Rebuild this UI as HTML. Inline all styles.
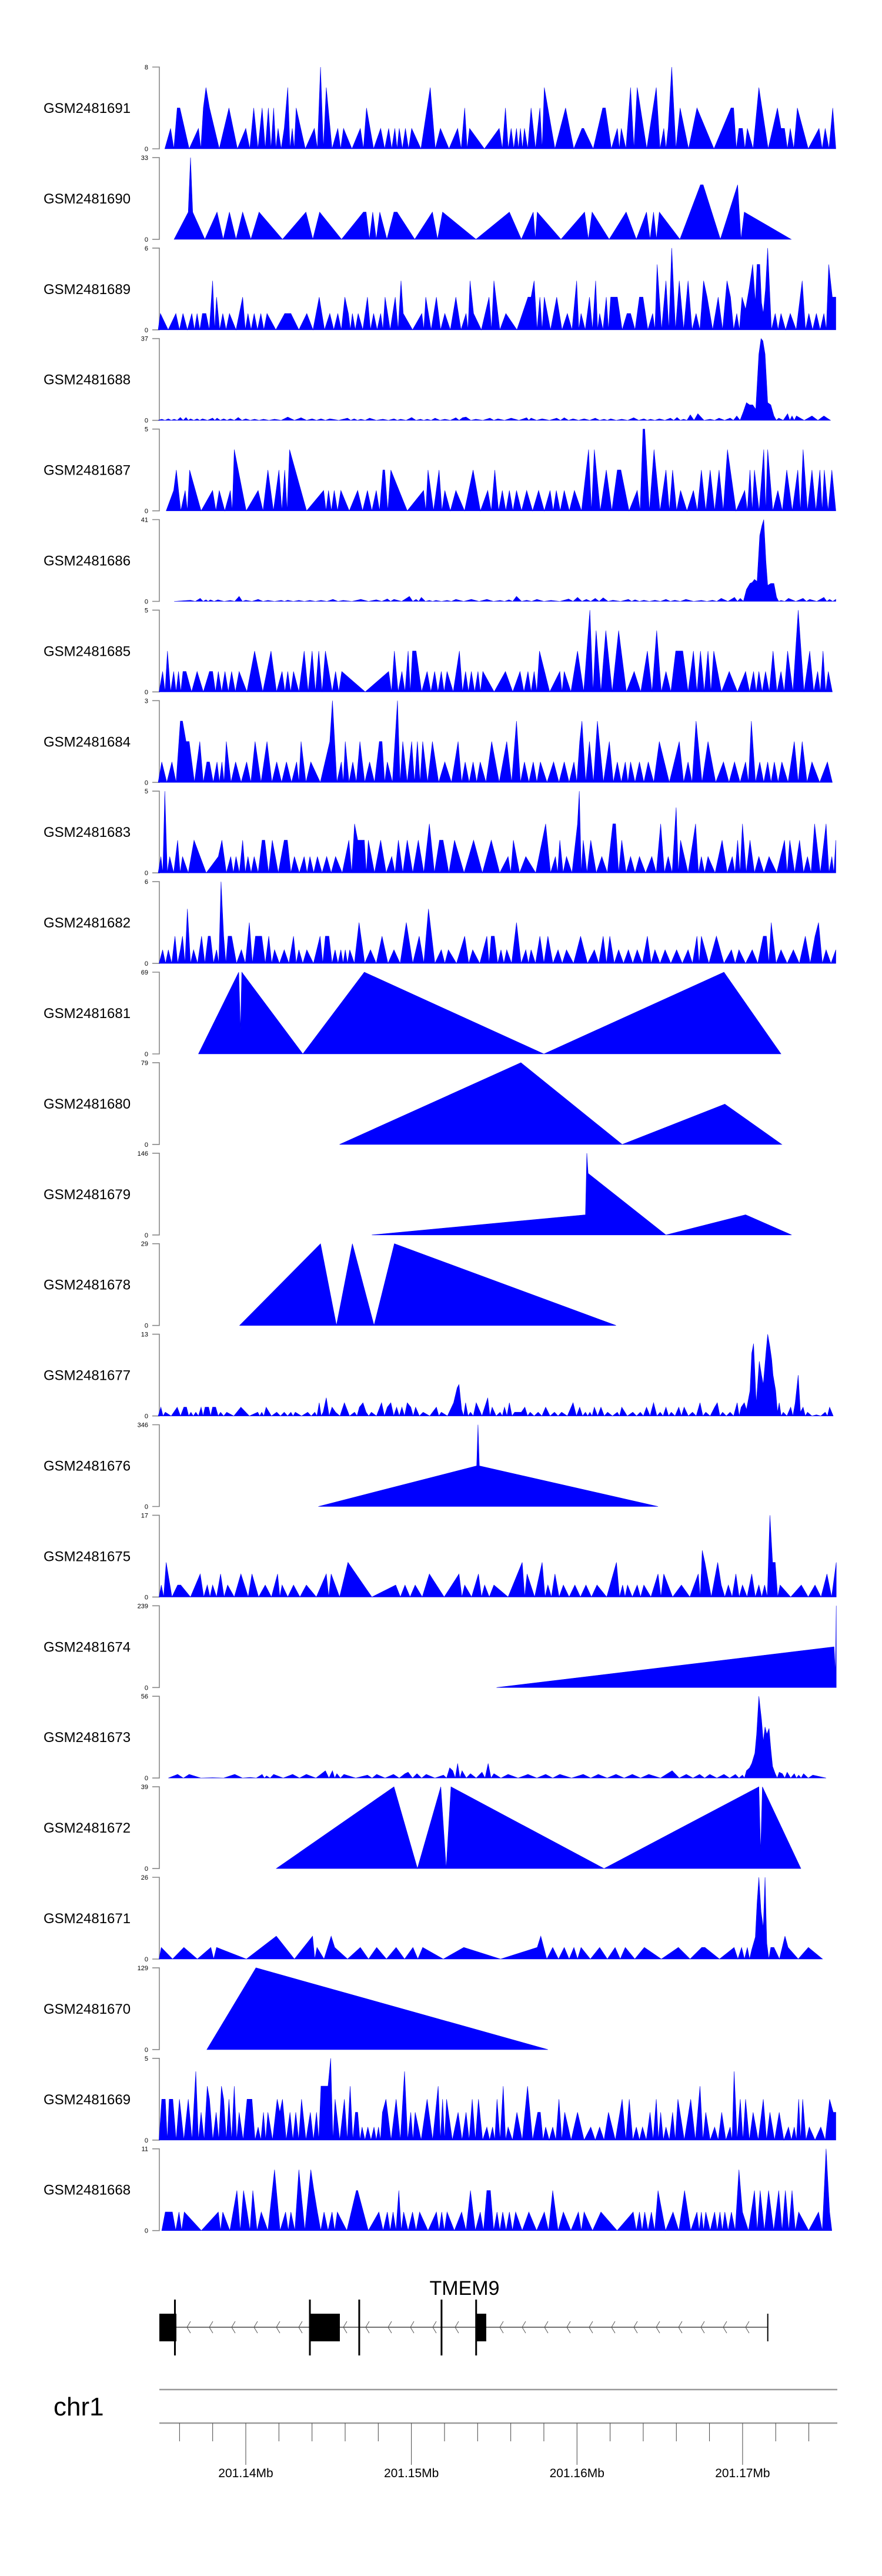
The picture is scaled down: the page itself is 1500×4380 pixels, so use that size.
<!DOCTYPE html>
<html><head><meta charset="utf-8"><title>TMEM9 tracks</title>
<style>
html,body{margin:0;padding:0;background:#fff;}
svg{display:block;font-family:"Liberation Sans",Arial,sans-serif;}
</style></head>
<body>
<svg id="chart" width="1500" height="4380" viewBox="0 0 1500 4380" xmlns="http://www.w3.org/2000/svg">
<rect x="0" y="0" width="1500" height="4380" fill="#fff"/>
<g id="tracks"></g>
<g id="gene"></g>
<g id="axis"></g>
</svg>
<script>
// ---- data (positions in bins of 26.7bp starting at 201.13439 Mb; values = coverage) ----
const BIN0_KB = 134.39;
const KB_PER_BIN = 0.02671;
const sampleNames = ["GSM2481691","GSM2481690","GSM2481689","GSM2481688","GSM2481687","GSM2481686","GSM2481685","GSM2481684","GSM2481683","GSM2481682","GSM2481681","GSM2481680","GSM2481679","GSM2481678","GSM2481677","GSM2481676","GSM2481675","GSM2481674","GSM2481673","GSM2481672","GSM2481671","GSM2481670","GSM2481669","GSM2481668"];
const sampleMax = [8,33,6,37,5,41,5,3,5,6,69,79,146,29,13,346,17,239,56,39,26,129,5,11];

const t1 = [[27,0],[40,2],[55,4],[61,4],[103,2],[114,4],[120,6],[128,4],[172,4],[210,2],[228,4],[247,4],[261,4],[273,4],[283,2],[297,2],[305,6],[315,2],[324,4],[365,2],[379,8],[392,6],[418,2],[431,2],[469,2],[483,4],[515,2],[533,2],[547,2],[557,2],[571,2],[585,2],[627,6],[650,2],[689,2],[705,4],[716,2],[783,2],[797,4],[810,2],[822,2],[831,2],[840,2],[855,4],[875,4],[885,6],[933,4],[970,2],[974,2],[1017,4],[1023,4],[1050,2],[1059,2],[1080,6],[1095,6],[1138,6],[1155,2],[1165,2],[1173,8],[1192,4],[1230,4],[1307,4],[1313,4],[1325,2],[1333,2],[1344,2],[1370,6],[1412,4],[1420,2],[1428,2],[1441,2],[1457,4],[1506,2],[1520,2],[1537,4],[1544,0]];
const t2 = [[48,0],[80,11],[85,33],[90,11],[145,11],[173,11],[203,11],[240,11],[346,11],[377,11],[476,11],[482,11],[497,11],[513,11],[545,11],[552,11],[632,11],[655,11],[806,11],[860,11],[869,11],[976,11],[993,11],[1070,11],[1116,11],[1132,11],[1145,11],[1238,22],[1244,22],[1322,22],[1337,11],[1443,0]];
const t3 = [[12,0],[17,1.2],[52,1.2],[68,1.2],[88,1.2],[100,1.2],[112,1.2],[120,1.2],[135,3.6],[144,2.4],[158,1.2],[173,1.2],[203,2.4],[215,1.2],[229,1.2],[244,1.2],[258,1.2],[298,1.2],[305,1.2],[312,1.2],[348,1.2],[376,2.4],[400,1.2],[418,1.2],[434,2.4],[442,1.2],[451,1.2],[464,1.2],[485,2.4],[499,1.2],[515,1.2],[525,2.4],[548,2.4],[561,3.6],[566,1.2],[608,1.2],[617,2.4],[641,2.4],[660,1.2],[685,2.4],[708,1.2],[717,3.6],[725,1.2],[760,2.4],[771,3.6],[798,1.2],[848,2.4],[855,2.4],[862,3.6],[875,2.4],[885,2.4],[913,2.4],[937,1.2],[958,3.6],[968,1.2],[987,2.4],[1001,3.6],[1010,1.2],[1025,2.4],[1035,2.4],[1043,2.4],[1050,2.4],[1072,1.2],[1080,1.2],[1100,2.4],[1108,2.4],[1130,1.2],[1140,4.8],[1160,3.6],[1173,6],[1190,3.6],[1210,3.6],[1228,1.2],[1245,3.6],[1253,2.4],[1278,2.4],[1298,3.6],[1306,2.4],[1320,1.2],[1332,2.4],[1340,1.5],[1348,3],[1356,4.8],[1362,2],[1366,4.8],[1372,4.8],[1376,2],[1380,1.2],[1385,3],[1390,6],[1407,1.2],[1420,1.2],[1441,1.2],[1468,3.6],[1483,1.2],[1500,1.2],[1517,1.2],[1528,4.8],[1536,2.4],[1544,2.4]];
const t4 = [[12,0],[20,0.5],[35,0.7],[48,0.5],[62,1.3],[75,1.3],[85,0.7],[100,0.7],[112,0.7],[135,1],[145,1],[160,0.7],[175,0.7],[193,1.3],[210,0.7],[230,0.5],[250,0.5],[275,0.5],[305,1.5],[335,1.2],[360,0.7],[380,0.7],[400,0.7],[440,1],[455,0.7],[470,0.5],[490,1],[520,0.5],[545,0.7],[560,0.5],[585,1.3],[605,0.5],[620,0.5],[638,1],[660,0.5],[685,1.2],[700,1.2],[708,1.5],[730,0.5],[762,1],[780,0.7],[810,1],[845,1.2],[855,1],[880,0.7],[913,1],[930,1.2],[950,0.7],[975,0.7],[1000,1],[1020,0.5],[1035,0.7],[1060,0.5],[1087,1.2],[1110,0.7],[1125,0.5],[1145,0.7],[1170,1],[1185,1.3],[1200,0.5],[1215,2.5],[1232,3],[1260,0.5],[1280,1],[1305,1],[1320,2],[1335,4],[1342,8],[1349,7],[1356,7],[1363,5],[1370,30],[1375,37],[1379,36],[1384,30],[1390,8],[1397,7],[1404,2],[1415,1],[1435,3],[1445,2],[1455,2],[1490,2],[1517,2],[1532,0]];
const t5 = [[30,0],[47,1.25],[53,2.5],[73,1.25],[83,2.5],[135,1.25],[150,1.25],[175,1.25],[184,3.75],[238,1.25],[260,2.5],[285,2.5],[298,2.5],[309,3.75],[386,1.25],[397,1.25],[410,1.25],[425,1.25],[463,1.25],[485,1.25],[505,1.25],[520,2.5],[524,2.5],[538,2.5],[612,1.25],[622,2.5],[647,2.5],[660,1.25],[685,1.25],[724,2.5],[757,1.25],[773,2.5],[790,1.25],[806,1.25],[822,1.25],[845,1.25],[872,1.25],[898,1.25],[912,1.25],[930,1.25],[953,1.25],[985,3.75],[998,3.75],[1025,2.5],[1050,2.5],[1058,2.5],[1095,1.25],[1108,5],[1112,5],[1133,3.75],[1160,2.5],[1175,2.5],[1193,1.25],[1222,1.25],[1240,2.5],[1260,2.5],[1280,2.5],[1299,3.75],[1338,1.25],[1350,2.5],[1360,2.5],[1381,3.75],[1390,3.75],[1413,1.25],[1433,2.5],[1458,2.5],[1470,3.75],[1490,2.5],[1508,2.5],[1518,2.5],[1535,2.5],[1544,0]];
const t6 = [[48,0],[85,0.6],[107,1.5],[120,0.8],[130,0.8],[147,0.8],[175,0.5],[195,2.5],[210,0.6],[238,1],[260,0.5],[290,0.5],[305,0.6],[330,0.5],[355,0.5],[380,0.5],[407,1],[430,0.5],[470,1],[505,0.8],[530,1.2],[545,1],[580,2.5],[595,1],[607,2],[625,0.5],[640,0.5],[665,0.5],[685,1],[720,1],[755,1],[785,0.5],[805,0.8],[822,2.5],[845,0.6],[868,1],[900,0.5],[940,1.2],[960,2],[980,1],[1000,1.5],[1018,1.8],[1040,0.6],[1075,1],[1090,0.8],[1110,0.6],[1135,0.6],[1160,1],[1180,0.6],[1205,1],[1240,0.5],[1265,0.6],[1285,1.5],[1315,2],[1328,1.5],[1342,6],[1350,9],[1355,9.5],[1360,11],[1366,10],[1372,33],[1377,38],[1381,41],[1386,20],[1390,8],[1397,9],[1404,9],[1410,2],[1420,0.5],[1437,1.5],[1470,1.5],[1485,1],[1517,2],[1530,1],[1544,1]];
const t7 = [[14,0],[22,1.25],[33,2.5],[47,1.25],[58,1.25],[68,1.25],[75,1.25],[100,1.25],[128,1.25],[135,1.25],[148,1.25],[163,1.25],[178,1.25],[195,1.25],[230,2.5],[267,2.5],[292,1.25],[305,1.25],[318,1.25],[342,2.5],[360,2.5],[375,2.5],[390,2.5],[398,1.25],[413,1.25],[427,1.25],[533,1.25],[546,2.5],[563,1.25],[577,2.5],[587,2.5],[595,2.5],[620,1.25],[637,1.25],[652,1.25],[665,1.25],[693,2.5],[707,1.25],[720,1.25],[735,1.25],[746,1.25],[797,1.25],[830,1.25],[848,1.25],[862,1.25],[874,2.5],[920,1.25],[930,1.25],[960,2.5],[988,5],[1002,3.75],[1024,3.75],[1053,3.75],[1088,1.25],[1118,2.5],[1139,3.75],[1160,1.25],[1182,2.5],[1190,2.5],[1198,2.5],[1222,2.5],[1238,2.5],[1255,2.5],[1268,2.5],[1303,1.25],[1340,1.25],[1358,1.25],[1370,1.25],[1385,1.25],[1402,2.5],[1420,1.25],[1435,2.5],[1459,5],[1485,2.5],[1503,1.25],[1515,2.5],[1527,1.25],[1536,0]];
const t8 = [[12,0],[20,0.75],[43,0.75],[62,2.25],[67,2.25],[75,1.5],[82,1.5],[106,1.5],[122,0.75],[128,0.75],[145,0.75],[156,0.75],[166,1.5],[187,0.75],[212,0.75],[231,1.5],[258,1.5],[280,0.75],[302,0.75],[325,0.75],[335,1.5],[357,0.75],[400,1.5],[406,3],[426,0.75],[435,1.5],[452,0.75],[468,1.5],[490,0.75],[512,1.5],[518,1.5],[530,0.75],[553,3],[565,1.5],[585,1.5],[598,1.5],[610,1.5],[632,1.5],[660,0.75],[690,1.5],[706,0.75],[724,0.75],[740,0.75],[766,1.5],[800,1.5],[822,2.25],[840,0.75],[860,0.75],[876,0.75],[906,0.75],[930,0.75],[952,0.75],[965,1.5],[970,2.25],[987,1.5],[1005,2.25],[1032,1.5],[1050,0.75],[1068,0.75],[1080,0.75],[1100,0.75],[1120,0.75],[1145,1.5],[1190,1.5],[1210,0.75],[1228,2.25],[1255,1.5],[1290,0.75],[1315,0.75],[1340,0.75],[1353,2.25],[1372,0.75],[1390,0.75],[1405,0.75],[1422,0.75],[1450,1.5],[1468,1.5],[1490,0.75],[1525,0.75],[1536,0]];
const t9 = [[12,0],[18,1],[27,5],[38,1],[56,2],[67,1],[93,2],[148,1],[156,2],[176,1],[188,1],[203,2],[215,1],[229,1],[247,2],[253,2],[270,2],[297,2],[304,2],[320,1],[342,1],[355,1],[372,1],[393,1],[413,1],[443,2],[456,3],[463,2],[470,2],[478,2],[487,2],[515,2],[540,1],[555,2],[575,2],[600,2],[625,3],[648,2],[656,2],[682,2],[725,2],[765,2],[803,1],[815,2],[843,1],[888,3],[910,1],[920,2],[935,1],[960,3],[964,5],[973,2],[990,2],[1015,1],[1040,3],[1046,3],[1060,2],[1080,1],[1100,1],[1128,1],[1148,3],[1165,1],[1183,4],[1193,2],[1227,3],[1240,1],[1255,1],[1287,2],[1310,1],[1322,2],[1333,3],[1350,2],[1370,1],[1393,1],[1428,2],[1440,2],[1462,2],[1480,1],[1496,3],[1522,3],[1535,1],[1544,2]];
const t10 = [[14,0],[22,1],[35,1],[50,2],[62,1],[67,2],[78,4],[92,1],[110,2],[125,2],[130,2],[144,1],[154,6],[160,2],[170,2],[178,2],[200,1],[218,3],[232,2],[240,2],[246,2],[262,2],[275,1],[297,1],[318,2],[330,1],[348,1],[378,2],[390,2],[398,2],[412,1],[425,1],[435,1],[445,1],[466,3],[492,1],[518,2],[545,1],[573,3],[602,2],[623,4],[652,1],[668,1],[705,2],[723,1],[755,2],[765,2],[772,2],[787,1],[800,1],[822,3],[843,1],[855,1],[875,2],[893,2],[916,1],[935,1],[967,2],[998,1],[1018,2],[1033,2],[1053,1],[1075,1],[1095,1],[1118,2],[1135,1],[1158,1],[1184,1],[1210,1],[1230,2],[1240,2],[1274,2],[1308,1],[1325,1],[1355,1],[1380,2],[1387,2],[1398,3],[1420,1],[1448,1],[1475,2],[1497,2],[1505,3],[1522,1],[1544,1]];
const t11 = [[103,0],[194,69],[198,20],[201,69],[339,0],[478,69],[884,0],[1291,69],[1420,0]];
const t12 = [[422,0],[832,79],[1061,0],[1293,39],[1422,0]];
const t13 = [[495,0],[978,36],[981,146],[984,110],[1160,0],[1340,36],[1444,0]];
const t14 = [[196,0],[379,29],[415,0],[451,29],[500,0],[546,29],[1047,0]];
const t15 = [[12,0],[18,1.4],[28,0.6],[55,1.4],[70,1.4],[76,1.4],[86,0.6],[97,0.6],[109,1.4],[118,1.4],[126,1.4],[135,1.4],[142,1.4],[153,0.6],[167,0.6],[199,1.4],[237,0.6],[246,0.6],[256,1.4],[280,0.6],[297,0.6],[312,0.6],[322,0.6],[350,0.6],[366,0.6],[376,2.1],[385,0.6],[392,2.9],[405,1.4],[413,0.6],[433,2.1],[456,0.6],[467,1.4],[475,2.1],[482,0.6],[494,0.6],[517,2.1],[530,1.4],[538,2.1],[551,1.4],[563,1.4],[575,2.1],[583,1.4],[594,1.4],[611,0.6],[641,1.4],[652,0.6],[680,2.1],[688,4.5],[692,5],[698,1],[707,2.1],[718,0.6],[731,2.1],[757,2.9],[767,1.4],[785,0.6],[795,1.4],[806,2.1],[818,0.6],[826,0.6],[833,0.6],[841,1.4],[853,0.6],[871,0.6],[888,1.4],[908,0.6],[924,0.6],[950,2.1],[965,1.4],[978,0.6],[988,0.6],[998,1.4],[1013,1.4],[1028,0.6],[1050,0.6],[1060,1.4],[1085,0.6],[1102,0.6],[1116,1.4],[1132,2.1],[1147,0.6],[1160,1.4],[1172,0.6],[1189,1.4],[1201,1.4],[1220,0.6],[1237,2.1],[1250,0.6],[1270,1.4],[1276,2.1],[1288,0.6],[1305,0.6],[1321,2.1],[1330,1.4],[1337,2.1],[1342,1],[1350,4],[1354,10],[1358,11.5],[1364,2],[1371,8.7],[1376,6.5],[1380,5],[1386,10],[1390,13],[1395,11],[1399,9],[1402,6.5],[1408,4],[1412,0.6],[1416,2.1],[1425,0.6],[1442,1.4],[1452,2],[1459,6.5],[1464,0.6],[1470,1.4],[1480,0.6],[1500,0.2],[1520,0.6],[1530,1.4],[1538,0]];
const t16 = [[374,0],[732,172],[735,346],[738,172],[1142,0]];
const t17 = [[14,0],[19,2.5],[30,7.2],[56,2.5],[63,2.5],[107,4.8],[123,2.5],[135,2.5],[153,4.8],[169,2.5],[199,4.8],[207,2.5],[224,4.8],[254,2.5],[282,4.8],[292,2.5],[318,2.5],[347,2.5],[392,4.8],[403,4.8],[441,7.2],[549,2.5],[570,2.5],[593,2.5],[625,4.8],[692,4.8],[705,2.5],[736,4.8],[750,2.5],[771,2.5],[835,7.2],[846,4.8],[880,7.2],[893,2.5],[909,4.8],[928,2.5],[954,2.5],[979,2.5],[1004,2.5],[1048,7.2],[1062,2.5],[1073,2.5],[1095,2.5],[1110,2.5],[1142,4.8],[1155,4.8],[1195,2.5],[1233,4.8],[1242,9.7],[1248,7.2],[1277,7.2],[1285,2.5],[1301,2.5],[1318,4.8],[1333,2.5],[1354,4.8],[1370,2.5],[1383,2.5],[1395,17],[1401,7.2],[1407,7.2],[1418,2.5],[1466,2.5],[1497,2.5],[1524,4.8],[1545,7.2]];
const t18 = [[777,0],[1540,119],[1543,40],[1545,239]];
const t19 = [[35,0],[56,2.5],[82,2.5],[135,0.3],[185,2.5],[220,0.5],[247,2.5],[257,1.5],[273,2.5],[316,2.5],[347,2.5],[390,5],[406,5],[416,3],[432,2.5],[485,2],[506,2.5],[544,2.5],[570,3],[577,4],[597,3],[618,2.5],[657,2],[671,7],[678,5],[689,10],[699,5],[718,3],[744,4],[758,10],[771,3],[803,2.5],[848,2.5],[888,2.5],[920,2.5],[973,2.5],[1007,2.5],[1047,2.5],[1084,2.5],[1121,2.5],[1174,5],[1206,2.5],[1236,2.5],[1259,2.5],[1291,2.5],[1317,2.5],[1333,2],[1342,5],[1349,7],[1354,10],[1361,17],[1365,30],[1370,56],[1376,40],[1380,25],[1384,35],[1388,30],[1393,34],[1397,20],[1401,8],[1407,3],[1416,4],[1423,3],[1434,4],[1450,3],[1460,2],[1471,3],[1492,2],[1522,0]];
const t20 = [[279,0],[545,39],[598,0],[651,39],[663,0],[674,39],[1020,0],[1370,39],[1374,8],[1378,39],[1465,0]];
const t21 = [[14,0],[19,3.7],[70,3.7],[131,3.7],[144,3.7],[279,7.3],[361,7.3],[371,3.7],[403,7.3],[411,3.7],[469,3.7],[506,3.7],[550,3.7],[588,3.7],[610,3.7],[703,3.7],[869,3.7],[877,7.3],[904,3.7],[930,3.7],[952,3.7],[968,3.7],[1010,3.7],[1045,3.7],[1068,3.7],[1111,3.7],[1188,3.7],[1241,3.7],[1248,3.7],[1314,3.7],[1331,3.7],[1344,3.7],[1354,3],[1362,7],[1366,18],[1370,26],[1375,15],[1380,10],[1384,26],[1388,5],[1397,3.7],[1404,3.7],[1429,7.3],[1436,3.7],[1482,3.7],[1514,0]];
const t22 = [[122,0],[233,129],[893,0]];
const t23 = [[14,0],[20,2.5],[28,2.5],[37,2.5],[45,2.5],[60,2.5],[80,2.5],[97,4.2],[109,1.7],[123,3.3],[128,2.5],[143,1.7],[155,3.3],[160,2.5],[172,2.5],[184,3.3],[195,1.7],[213,2.5],[217,2.5],[224,2.5],[238,0.8],[250,1.7],[260,1.7],[281,2.5],[287,1.7],[293,2.5],[310,1.7],[323,1.7],[336,2.5],[356,1.7],[370,1.7],[380,3.3],[385,3.3],[390,3.3],[396,3.3],[402,5],[412,2.5],[433,2.5],[446,3.3],[458,1.7],[463,1.7],[473,0.8],[486,0.8],[500,0.8],[510,0.8],[519,1.7],[527,2.5],[550,2.5],[569,4.2],[583,1.7],[593,1.7],[620,2.5],[645,3.3],[655,2.5],[664,2.5],[690,1.7],[708,1.7],[722,2.5],[736,2.5],[755,0.8],[768,0.8],[778,2.5],[792,3.3],[803,0.8],[823,1.7],[847,3.3],[870,1.7],[876,1.7],[888,0.8],[904,0.8],[918,2.5],[931,1.7],[960,1.7],[990,0.8],[1010,0.8],[1030,1.7],[1061,2.5],[1077,2.5],[1093,0.8],[1107,0.8],[1124,1.7],[1138,2.5],[1148,1.7],[1160,0.8],[1175,1.7],[1187,2.5],[1216,2.5],[1237,3.3],[1250,1.7],[1270,0.8],[1286,1.7],[1305,0.8],[1314,4.2],[1328,2.5],[1340,2.5],[1357,1.7],[1380,2.5],[1395,1.7],[1416,1.7],[1437,0.8],[1450,0.8],[1460,2.5],[1469,2.5],[1484,0.8],[1510,0.8],[1530,2.5],[1538,1.7],[1544,1.7]];
const t24 = [[20,0],[28,2.5],[36,2.5],[44,2.5],[59,2.5],[71,2.5],[148,2.5],[158,2.5],[190,5.4],[205,5.4],[213,2.5],[226,5.4],[245,2.5],[275,8.2],[300,2.5],[312,2.5],[330,8.2],[357,8.2],[364,5.4],[372,2.5],[387,2.5],[405,2.5],[417,2.5],[460,5.4],[463,5.4],[511,2.5],[530,2.5],[543,2.5],[556,5.4],[567,2.5],[587,2.5],[603,2.5],[641,2.5],[653,2.5],[665,2.5],[698,2.5],[718,5.4],[740,2.5],[755,5.4],[763,5.4],[778,2.5],[791,2.5],[806,2.5],[820,2.5],[850,2.5],[885,2.5],[904,5.4],[928,2.5],[962,2.5],[975,2.5],[1013,2.5],[1086,2.5],[1100,2.5],[1112,2.5],[1127,2.5],[1142,5.4],[1176,2.5],[1202,5.4],[1230,2.5],[1240,2.5],[1250,2.5],[1270,2.5],[1282,2.5],[1293,2.5],[1308,2.5],[1325,8.2],[1333,2.5],[1360,5.4],[1373,5.4],[1392,5.4],[1415,5.4],[1430,5.4],[1445,5.4],[1460,2.5],[1505,2.5],[1522,11],[1530,2.5],[1535,0]];
const trackData = [t1,t2,t3,t4,t5,t6,t7,t8,t9,t10,t11,t12,t13,t14,t15,t16,t17,t18,t19,t20,t21,t22,t23,t24];

// gene model (kb offsets from 201.000 Mb)
const exonStarts = [134.78, 143.87, 153.91];
const exonEnds = [135.81, 145.68, 154.52];
const exonLines = [135.72, 143.87, 146.85, 151.82, 153.91];
const geneStart = 134.78;
const geneEnd = 171.52;
const axisTicksKb = [136,138,140,142,144,146,148,150,152,154,156,158,160,162,164,166,168,170,172,174];
const axisMajorKb = [140,150,160,170];
const axisMajorLabels = ["201.14Mb","201.15Mb","201.16Mb","201.17Mb"];

// ---- layout & scales ----
const SVGNS = "http://www.w3.org/2000/svg";
const PLOT_L = 271, PLOT_R = 1424, KB_L = 134.78, KB_R = 175.72;
const TRACK_TOP0 = 114, TRACK_PITCH = 153.9, TRACK_H = 139;
function xKb(kb){ return PLOT_L + (kb - KB_L) * (PLOT_R - PLOT_L) / (KB_R - KB_L); }
function xBin(b){ return xKb(BIN0_KB + b * KB_PER_BIN); }
function mk(tag, attrs, parent){ const e = document.createElementNS(SVGNS, tag); for (const k in attrs) e.setAttribute(k, attrs[k]); parent.appendChild(e); return e; }

const gTracks = document.getElementById('tracks');
trackData.forEach(function(data, i){
  const top = TRACK_TOP0 + i * TRACK_PITCH;
  const zero = top + TRACK_H;
  const mx = sampleMax[i];
  const yv = function(v){ return zero - v / mx * TRACK_H; };
  const g = mk('g', {}, gTracks);
  
  
  const lab = mk('text', {x: 74, y: top + 78, 'font-size': 24, fill: '#000'}, g);
  lab.textContent = sampleNames[i];
  
  
  const ax = mk('path', {d: 'M259,' + top + 'H271V' + zero + 'H259', fill: 'none', stroke: '#888', 'stroke-width': 1.6}, g);
  
  
  const tMax = mk('text', {x: 252, y: top + 4, 'font-size': 11, 'text-anchor': 'end', fill: '#000'}, g);
  tMax.textContent = String(mx);
  
  
  const tZero = mk('text', {x: 252, y: zero + 4, 'font-size': 11, 'text-anchor': 'end', fill: '#000'}, g);
  tZero.textContent = '0';
  
  
  const pts = [];
  pts.push(xBin(data[0][0]).toFixed(1) + ',' + zero.toFixed(1));
  for (let j = 0; j < data.length; j++) {
    if (j > 0) {
      const p = data[j-1], c = data[j];
      if (p[1] > 0 && c[1] > 0 && c[0] - p[0] >= 9) {
        pts.push(xBin((p[0] + c[0]) / 2).toFixed(1) + ',' + zero.toFixed(1));
      }
    }
    pts.push(xBin(data[j][0]).toFixed(1) + ',' + yv(data[j][1]).toFixed(1));
  }
  pts.push(xBin(data[data.length-1][0]).toFixed(1) + ',' + zero.toFixed(1));
  const poly = mk('polygon', {points: pts.join(' '), fill: '#0000ff', stroke: '#0000ee', 'stroke-width': 0.6, 'stroke-linejoin': 'miter'}, g);
  
  
});

// ---- gene track ----
const gGene = document.getElementById('gene');
const gl = mk('text', {x: 790, y: 3902, 'font-size': 34, 'text-anchor': 'middle', fill: '#000'}, gGene);
gl.textContent = 'TMEM9';


const gLine = mk('line', {x1: xKb(geneStart), x2: xKb(geneEnd), y1: 3957, y2: 3957, stroke: '#444', 'stroke-width': 1.5}, gGene);


for (let ax = 318; ax < xKb(geneEnd) - 10; ax += 38) {
  const ch = mk('path', {d: 'M' + (ax + 6) + ',3947L' + ax + ',3957L' + (ax + 6) + ',3967', fill: 'none', stroke: '#555', 'stroke-width': 1}, gGene);
  
  
}
exonStarts.forEach(function(s, k){
  const r = mk('rect', {x: xKb(s), y: 3934, width: xKb(exonEnds[k]) - xKb(s), height: 47, fill: '#000'}, gGene);
  
  
});
exonLines.forEach(function(s){
  const l = mk('line', {x1: xKb(s), x2: xKb(s), y1: 3910, y2: 4005, stroke: '#000', 'stroke-width': 3}, gGene);
  
  
});
const endL = mk('line', {x1: xKb(geneEnd), x2: xKb(geneEnd), y1: 3934, y2: 3981, stroke: '#000', 'stroke-width': 2}, gGene);



// ---- genome axis ----
const gAxis = document.getElementById('axis');
const chr = mk('text', {x: 91, y: 4107, 'font-size': 44, fill: '#000'}, gAxis);
chr.textContent = 'chr1';


const ideo = mk('line', {x1: PLOT_L, x2: PLOT_R, y1: 4063, y2: 4063, stroke: '#999', 'stroke-width': 2.5}, gAxis);


const axL = mk('line', {x1: PLOT_L, x2: PLOT_R, y1: 4120, y2: 4120, stroke: '#999', 'stroke-width': 2.5}, gAxis);


axisTicksKb.forEach(function(kb){
  const major = axisMajorKb.indexOf(kb) >= 0;
  const t = mk('line', {x1: xKb(kb), x2: xKb(kb), y1: 4120, y2: major ? 4191 : 4151, stroke: '#444', 'stroke-width': 1}, gAxis);
  
  
});
axisMajorKb.forEach(function(kb, k){
  const t = mk('text', {x: xKb(kb), y: 4212, 'font-size': 21, 'text-anchor': 'middle', fill: '#000'}, gAxis);
  t.textContent = axisMajorLabels[k];
  
  
});
</script>
</body></html>
